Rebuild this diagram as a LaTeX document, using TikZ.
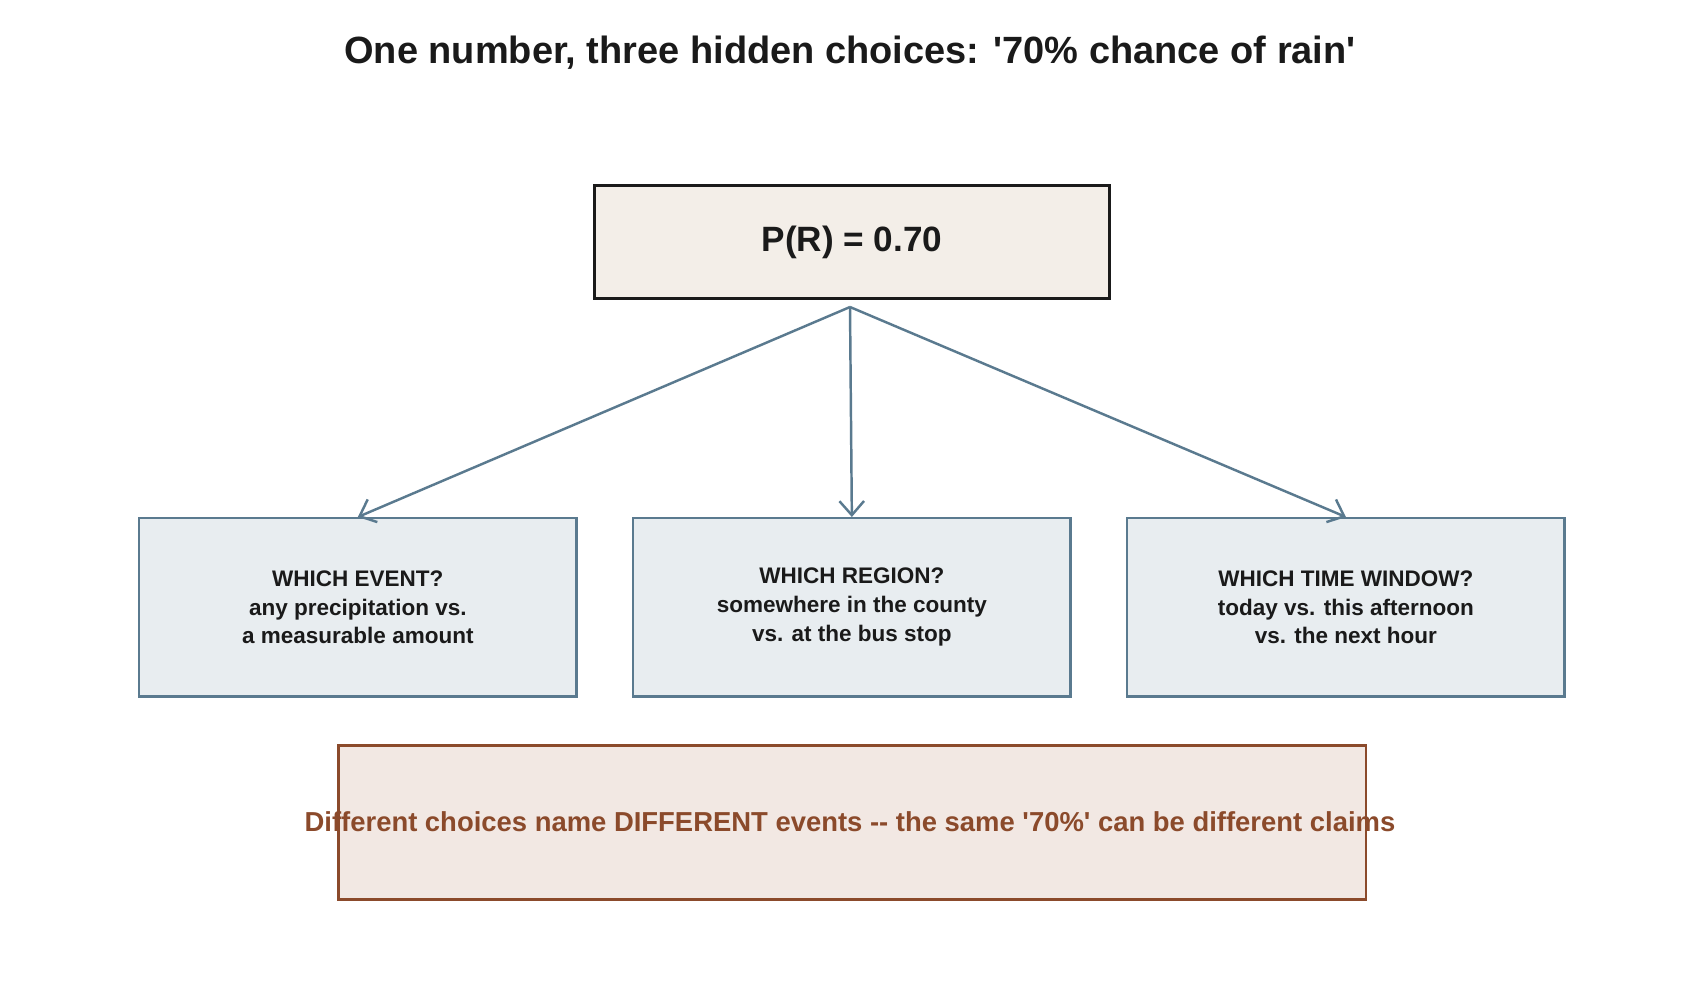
\documentclass[tikz,border=0pt]{standalone}
\usepackage{fontspec}
\setmainfont{Liberation Sans}
\usetikzlibrary{arrows.meta}
\begin{document}
\begin{tikzpicture}[x=0.01cm,y=-0.01cm,
 lower/.style={draw=slate,fill=lowfill,line width=0.7pt,minimum width=4.37cm,minimum height=1.78cm,anchor=north west,inner sep=0pt,align=center,font=\fontsize{6.4}{8.2}\selectfont\bfseries,text=txt},
 arr/.style={draw=slate,line width=0.7pt,-{Straight Barb[length=4pt,width=7pt]}}]
\definecolor{slate}{HTML}{5A7A8F}
\definecolor{lowfill}{HTML}{E8EDF0}
\definecolor{topfill}{HTML}{F3EEE8}
\definecolor{botfill}{HTML}{F2E8E3}
\definecolor{rust}{HTML}{8B4A2B}
\definecolor{txt}{HTML}{1A1A1A}
\useasboundingbox (0,0) rectangle (1700,1000);
\node[font=\fontsize{10.8}{13}\selectfont\bfseries,text=txt] (title) at (850,53) {One number, three hidden choices: \textquotesingle 70\% chance of rain\textquotesingle};
\node[draw=txt,fill=topfill,line width=0.8pt,minimum width=5.15cm,minimum height=1.13cm,anchor=north west,inner sep=0pt,font=\fontsize{10}{12}\selectfont\bfseries,text=txt] (top) at (593,184) {P(R) = 0.70};
\coordinate (src) at (850,307);
\node[lower] (a) at (138,517) {WHICH EVENT?\\any precipitation vs.\\a measurable amount};
\node[lower] (b) at (632,517) {WHICH REGION?\\somewhere in the county\\vs. at the bus stop};
\node[lower] (c) at (1126,517) {WHICH TIME WINDOW?\\today vs. this afternoon\\vs. the next hour};
\draw[arr] (src) -- (a.north);
\draw[arr] (src) -- (b.north);
\draw[arr] (src) -- (c.north);
\node[draw=rust,fill=botfill,line width=0.8pt,minimum width=10.27cm,minimum height=1.54cm,anchor=north west,inner sep=0pt] (bot) at (337,744) {};
\node[font=\fontsize{7.8}{9}\selectfont\bfseries,text=rust] (msg) at (850,822) {Different choices name DIFFERENT events -{}- the same \textquotesingle 70\%\textquotesingle\ can be different claims};
\end{tikzpicture}
\end{document}
